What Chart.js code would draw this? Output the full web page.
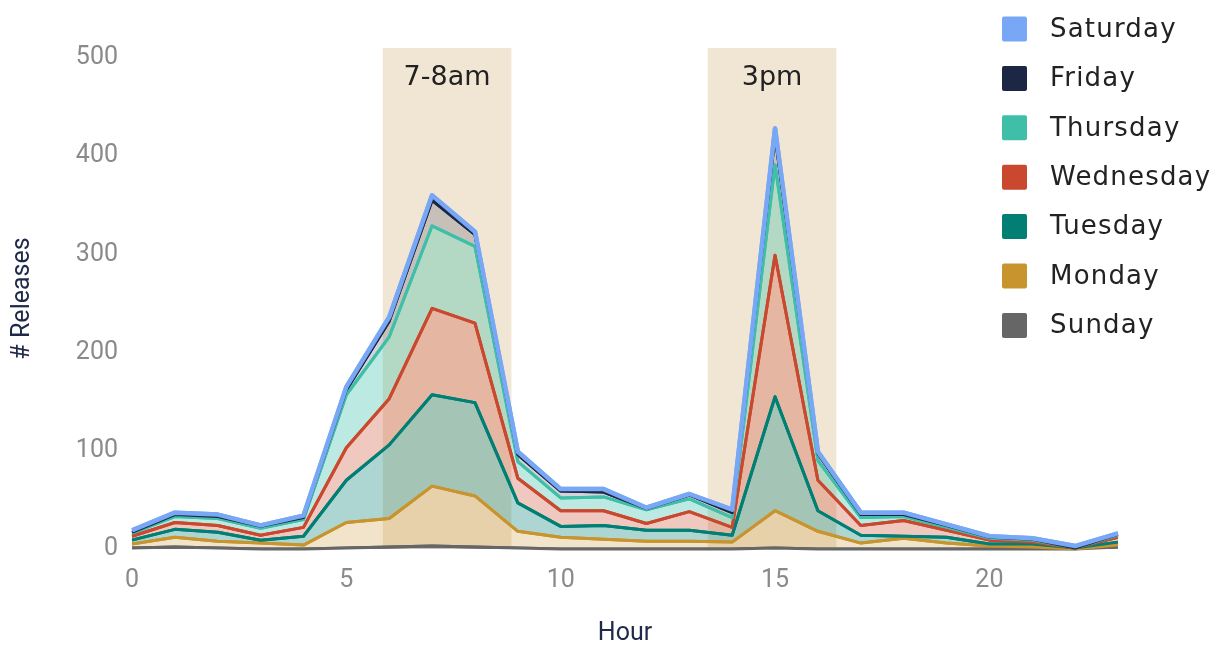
<!DOCTYPE html>
<html>
<head>
<meta charset="utf-8">
<script src="https://cdn.jsdelivr.net/npm/chart.js@4.4.1/dist/chart.umd.min.js"></script>
<style>
  html, body { margin:0; padding:0; background:#fff; }
  #wrap { width:1225px; height:646px; }
</style>
</head>
<body>
<div id="wrap"><canvas id="chart" width="1225" height="646"></canvas></div>
<script>
// hour of day on the x axis
const hours = [0,1,2,3,4,5,6,7,8,9,10,11,12,13,14,15,16,17,18,19,20,21,22,23];
const xTicks = [0,5,10,15,20];
const yTicks = [0,100,200,300,400,500];

// releases per hour, one list per weekday (stacked bottom -> top)
const sunday    = [1,2,1,0,0,1,2,3,2,1,0,0,0,0,0,1,0,0,0,0,0,0,0,2];
const monday    = [4,10,7,6,4,26,29,61,52,17,12,10,8,8,7,38,18,6,11,6,3,2,0,2];
const tuesday   = [4,8,9,3,9,43,75,93,95,29,11,14,11,11,7,116,21,8,2,6,2,3,1,3];
const wednesday = [4,7,7,5,9,33,47,88,81,25,16,15,7,19,8,144,31,10,16,7,4,2,0,5];
const thursday  = [3,6,7,7,8,54,63,84,78,17,13,14,14,13,10,92,20,8,4,3,2,2,0,2];
const friday    = [1,2,2,2,2,5,16,26,12,7,7,5,1,4,5,30,7,3,2,2,1,1,0,1];
const saturday  = [2,2,2,1,2,3,4,5,3,3,2,3,1,1,3,7,2,2,2,1,1,1,2,1];

const dayNames = ['Sunday','Monday','Tuesday','Wednesday','Thursday','Friday','Saturday'];
const dayValues = [sunday, monday, tuesday, wednesday, thursday, friday, saturday];
const dayColors = ['#666666','#c8942e','#017f74','#c9482e','#3fbfa8','#1c2645','#78a8f5'];
const dayFills  = ['rgba(102,102,102,0.3)','rgba(200,148,46,0.25)','rgba(1,127,116,0.32)',
                   'rgba(201,72,46,0.3)','rgba(63,191,168,0.35)','rgba(28,38,69,0.2)','rgba(120,168,245,0.3)'];

// highlighted periods (x ranges in hours)
const bandLabels = ['7-8am','3pm'];
const bandFrom = [5.85, 13.43];
const bandTo   = [8.85, 16.43];

const yMax = 510;

const datasets = dayNames.map((name, i)=>({
  label: name,
  data: hours.map((h, j)=>({x:h, y:dayValues[i][j]})),
  borderColor: dayColors[i],
  backgroundColor: dayFills[i],
  borderWidth: name==='Saturday' ? 4.5 : 3,
  borderJoinStyle: 'round',
  pointRadius: 0,
  tension: 0,
  fill: i===0 ? 'origin' : '-1'
}));

// shaded bands behind the areas + their labels
const bandPlugin = {
  id:'bands',
  beforeDatasetsDraw(chart){
    const {ctx, scales:{x, y}} = chart;
    ctx.save();
    ctx.fillStyle = 'rgba(236,222,198,0.75)';
    bandLabels.forEach((lab, i)=>{
      const x0 = x.getPixelForValue(bandFrom[i]);
      const x1 = x.getPixelForValue(bandTo[i]);
      const y0 = y.getPixelForValue(yMax);
      const y1 = y.getPixelForValue(0);
      ctx.fillRect(x0, y0, x1-x0, y1-y0);
    });
    ctx.restore();
  },
  afterDatasetsDraw(chart){
    const {ctx, scales:{x, y}} = chart;
    // redraw lines bottom -> top so the upper days sit on top
    for(let i=0;i<chart.data.datasets.length;i++){
      chart.getDatasetMeta(i).dataset.draw(ctx, chart.chartArea);
    }
    ctx.save();
    ctx.fillStyle = '#222';
    ctx.font = '27px "DejaVu Sans"';
    ctx.textAlign = 'center';
    ctx.textBaseline = 'middle';
    bandLabels.forEach((lab, i)=>{
      const cx = (x.getPixelForValue(bandFrom[i]) + x.getPixelForValue(bandTo[i]))/2;
      ctx.fillText(lab, cx, y.getPixelForValue(yMax) + 30);
    });
    ctx.restore();
  }
};

// legend drawn in the top-right corner, Saturday first
const legendPlugin = {
  id:'sideLegend',
  afterDraw(chart){
    const ctx = chart.ctx;
    ctx.save();
    ctx.font = '26px "DejaVu Sans"';
    ctx.letterSpacing = '1.2px';
    ctx.textBaseline = 'middle';
    const items = chart.data.datasets.slice().reverse();
    items.forEach((ds, k)=>{
      const cy = 29 + k*49.4;
      ctx.fillStyle = ds.borderColor;
      ctx.beginPath();
      ctx.roundRect(1002, cy-12.5, 25, 25, 2);
      ctx.fill();
      ctx.fillStyle = '#222';
      ctx.fillText(ds.label, 1050, cy+1);
    });
    ctx.restore();
  }
};

new Chart(document.getElementById('chart'), {
  type:'line',
  data:{ datasets },
  plugins:[bandPlugin, legendPlugin],
  options:{
    responsive:false,
    animation:false,
    layout:{ padding:{ top:48, right:107, left:0, bottom:0 } },
    plugins:{ legend:{ display:false }, tooltip:{ enabled:false } },
    scales:{
      x:{
        type:'linear', min:0, max:23,
        grid:{ display:false, drawTicks:false }, border:{ display:false },
        afterBuildTicks(s){ s.ticks = xTicks.map(v=>({value:v})); },
        ticks:{ color:'#8a8a8a', padding:17, font:{ family:'Roboto', size:25 } },
        title:{ display:true, text:'Hour', color:'#1f2a4a', padding:{top:0,bottom:-3},
                font:{ family:'Roboto', size:25 } },
        afterFit(s){ s.height = 97; }
      },
      y:{
        stacked:true, min:0, max:yMax,
        grid:{ display:false, drawTicks:false }, border:{ display:false },
        afterBuildTicks(s){ s.ticks = yTicks.map(v=>({value:v})); },
        ticks:{ color:'#8a8a8a', padding:14, font:{ family:'Roboto', size:25 } },
        title:{ display:true, text:'# Releases', color:'#1f2a4a', padding:{top:8,bottom:0},
                font:{ family:'Roboto', size:25 } },
        afterFit(s){ s.width = 132; }
      }
    }
  }
});
</script>
</body>
</html>
